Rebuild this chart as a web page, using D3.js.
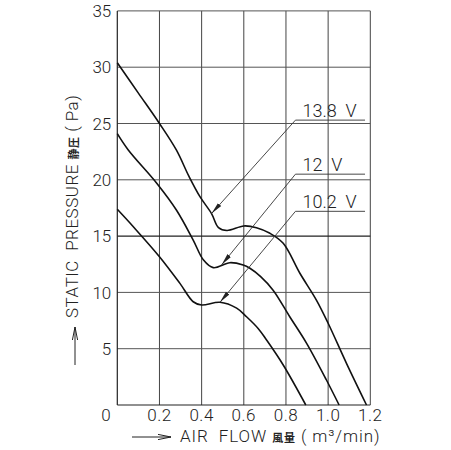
<!DOCTYPE html>
<html>
<head>
<meta charset="utf-8">
<script src="https://cdn.jsdelivr.net/npm/d3@7"></script>
<style>
  html, body { margin: 0; padding: 0; background: #fff; }
  svg { display: block; }
  text { font-family: Roboto, "DejaVu Sans", sans-serif; font-weight: 300; fill: #222; }
</style>
</head>
<body>
<svg id="chart" width="451" height="450"></svg>
<script>
// fan P-Q curves
const xTicks = [0, 0.2, 0.4, 0.6, 0.8, 1.0, 1.2];
const yTicks = [0, 5, 10, 15, 20, 25, 30, 35];

const v138 = [[0, 30.4], [0.1, 27.7], [0.2, 25.0], [0.28, 22.65], [0.34, 20.3], [0.392, 18.5], [0.447, 17.0],
  [0.48, 15.75], [0.52, 15.5], [0.6, 15.9], [0.66, 15.75], [0.724, 15.25],
  [0.787, 14.36], [0.866, 11.7], [0.945, 9.3], [1.0, 7.26], [1.087, 3.7], [1.182, 0]];
const v120 = [[0, 24.1], [0.052, 22.65], [0.187, 19.7], [0.281, 17.3], [0.36, 14.65], [0.408, 12.9],
  [0.455, 12.2], [0.534, 12.64], [0.597, 12.43], [0.629, 12.14], [0.68, 11.4], [0.739, 10.2],
  [0.818, 7.84], [0.898, 5.48], [0.992, 2.22], [1.052, 0]];
const v102 = [[0, 17.38], [0.076, 15.83], [0.2, 13.17], [0.297, 10.8], [0.36, 9.17], [0.4, 8.88],
  [0.487, 9.12], [0.566, 8.6], [0.613, 7.84], [0.668, 6.8], [0.708, 5.77], [0.787, 3.55], [0.894, 0]];

const series = [
  { label: '13.8\u00a0\u00a0V', values: v138, tip: [0.447, 17.0], ly: 25.3 },
  { label: '12\u00a0\u00a0V', values: v120, tip: [0.495, 12.45], ly: 20.5 },
  { label: '10.2\u00a0\u00a0V', values: v102, tip: [0.487, 9.12], ly: 17.2 }
];

const svg = d3.select('#chart');
const L = 117.3, R = 370.3, T = 10.9, B = 405;

const x = d3.scaleLinear().domain([0, 1.2]).range([L, R]);
const y = d3.scaleLinear().domain([0, 35]).range([B, T]);

// grid
const grid = svg.append('g').attr('fill', 'none');
grid.selectAll('line.v').data(xTicks.slice(1)).join('line')
  .attr('x1', d => x(d)).attr('x2', d => x(d)).attr('y1', T).attr('y2', B)
  .attr('stroke', '#444').attr('stroke-width', 1);
grid.selectAll('line.h').data(yTicks.slice(1)).join('line')
  .attr('x1', L).attr('x2', R).attr('y1', d => y(d)).attr('y2', d => y(d))
  .attr('stroke', d => d === 15 ? '#222' : '#555').attr('stroke-width', d => d === 15 ? 1.2 : 1);
grid.append('line').attr('x1', L).attr('x2', L).attr('y1', T).attr('y2', B).attr('stroke', '#222').attr('stroke-width', 1.2);
grid.append('line').attr('x1', L).attr('x2', R).attr('y1', B).attr('y2', B).attr('stroke', '#222').attr('stroke-width', 1.2);

// tick labels
svg.append('g').selectAll('text').data(yTicks.slice(1)).join('text')
  .attr('x', L - 6).attr('y', d => y(d)).attr('dy', '0.36em')
  .attr('text-anchor', 'end').attr('font-size', 17)
  .text(d => d);
svg.append('g').selectAll('text').data(xTicks).join('text')
  .attr('x', d => d === 0 ? L - 6 : x(d)).attr('y', 421)
  .attr('text-anchor', d => d === 0 ? 'end' : 'middle').attr('font-size', 17)
  .attr('letter-spacing', 0.5)
  .text(d => d === 0 ? '0' : d.toFixed(1));

// curves
const line = d3.line().x(d => x(d[0])).y(d => y(d[1])).curve(d3.curveCatmullRom.alpha(0.5));
svg.append('g').selectAll('path').data(series).join('path')
  .attr('d', d => line(d.values))
  .attr('fill', 'none').attr('stroke', '#111').attr('stroke-width', 1.6);

// leader lines with labels
svg.append('defs').append('marker')
  .attr('id', 'tip').attr('viewBox', '0 -3 12 6').attr('refX', 12).attr('refY', 0)
  .attr('markerWidth', 12).attr('markerHeight', 6).attr('markerUnits', 'userSpaceOnUse')
  .attr('orient', 'auto')
  .append('path').attr('d', 'M0,-2.2L12,0L0,2.2Z').attr('fill', '#222');

const lead = svg.append('g');
series.forEach(s => {
  const sx = x(0.845), ex = x(1.175), ly = y(s.ly);
  lead.append('path')
    .attr('d', `M${ex},${ly}L${sx},${ly}L${x(s.tip[0])},${y(s.tip[1])}`)
    .attr('fill', 'none').attr('stroke', '#333').attr('stroke-width', 0.9)
    .attr('marker-end', 'url(#tip)');
  lead.append('text')
    .attr('x', sx + 7).attr('y', ly - 3.5).attr('font-size', 18)
    .text(s.label);
});

// axis titles with arrows
function arrow(x1, y1, x2, y2) {
  const a = Math.atan2(y2 - y1, x2 - x1), len = 13, w = 2.6;
  const bx = x2 - len * Math.cos(a), by = y2 - len * Math.sin(a);
  const nx = -Math.sin(a) * w, ny = Math.cos(a) * w;
  svg.append('path')
    .attr('d', `M${x1},${y1}L${x2},${y2}M${bx + nx},${by + ny}L${x2},${y2}L${bx - nx},${by - ny}`)
    .attr('fill', 'none').attr('stroke', '#222').attr('stroke-width', 1);
}
arrow(75, 365, 75, 327);
arrow(132, 437, 171, 437);

const yt = svg.append('text')
  .attr('transform', 'translate(78,318) rotate(-90)')
  .attr('font-size', 17).attr('letter-spacing', 0.5);
yt.append('tspan').text('STATIC\u00a0\u00a0PRESSURE ');
yt.append('tspan').attr('font-size', 11).attr('font-weight', 700)
  .style('font-family', '"Noto Sans CJK JP", sans-serif').text('静圧');
yt.append('tspan').text(' (\u00a0Pa)');

const xt = svg.append('text')
  .attr('x', 180).attr('y', 442).attr('font-size', 17).attr('letter-spacing', 0.9);
xt.append('tspan').text('AIR\u00a0\u00a0FLOW ');
xt.append('tspan').attr('font-size', 11).attr('font-weight', 700)
  .style('font-family', '"Noto Sans CJK JP", sans-serif').text('風量');
xt.append('tspan').text(' (\u00a0m³/min)');
</script>
</body>
</html>
